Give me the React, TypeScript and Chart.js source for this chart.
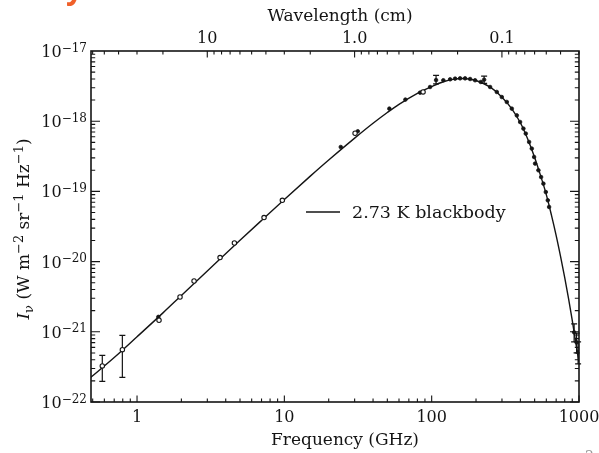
import React, { useEffect, useRef } from "react";
import { Chart, registerables } from "chart.js";

Chart.register(...registerables);

// ---------------- data ----------------
// 2.73 K blackbody curve, frequency in GHz, intensity in W m^-2 sr^-1 Hz^-1
const curveFreq = [0.48, 0.7, 1, 1.5, 2, 3, 5, 7, 10, 15, 20, 30, 40, 50, 60, 80, 100, 120, 140, 160, 180, 200, 250, 300, 350, 400, 450, 500, 550, 600, 650, 700, 750, 800, 850, 900, 950, 1000];
const curveIntensity = [2.2e-22, 4.3e-22, 8.5e-22, 1.86e-21, 3.3e-21, 7.35e-21, 2.01e-20, 3.86e-20, 7.67e-20, 1.65e-19, 2.8e-19, 5.74e-19, 9.35e-19, 1.33e-18, 1.74e-18, 2.5e-18, 3.12e-18, 3.65e-18, 3.95e-18, 4.05e-18, 4.0e-18, 3.8e-18, 3.05e-18, 2.2e-18, 1.5e-18, 9.5e-19, 5.5e-19, 3.05e-19, 1.65e-19, 9.0e-20, 4.6e-20, 2.35e-20, 1.18e-20, 5.92e-21, 2.95e-21, 1.45e-21, 7.1e-22, 3.7e-22];

// open-circle measurements
const openFreq = [0.581, 0.795, 1.41, 1.958, 2.438, 3.66, 4.58, 7.28, 9.69, 30.2, 87.4];
const openIntensity = [3.26e-22, 5.57e-22, 1.46e-21, 3.13e-21, 5.29e-21, 1.14e-20, 1.84e-20, 4.24e-20, 7.47e-20, 6.73e-19, 2.61e-18];

// filled measurements
const filledFreq = [1.395, 24.15, 31.5, 51.6, 66.3, 83.4, 97.5, 107.1, 120.0, 133.4, 144.2, 155.9, 168.6, 182.3, 197.1, 215.5, 227, 249.2, 276.7, 299.2, 323.6, 349.8, 378.3, 398.3, 419.4, 435.3, 458.4, 478.2, 495.7, 503.5, 530.2, 553.0, 573.3, 595.2, 614.1, 626.6, 926.5, 963, 986];
const filledIntensity = [1.63e-21, 4.29e-19, 7.18e-19, 1.51e-18, 2.03e-18, 2.55e-18, 3.07e-18, 3.85e-18, 3.83e-18, 3.95e-18, 4.04e-18, 4.08e-18, 4.08e-18, 3.99e-18, 3.83e-18, 3.62e-18, 3.9e-18, 3.07e-18, 2.61e-18, 2.21e-18, 1.88e-18, 1.51e-18, 1.21e-18, 9.74e-19, 7.85e-19, 6.66e-19, 5.06e-19, 4.07e-19, 3.09e-19, 2.49e-19, 2.0e-19, 1.6e-19, 1.29e-19, 9.8e-20, 7.47e-20, 6.0e-20, 9.84e-22, 7.08e-22, 5.1e-22];

// error bars
const errFreq = [0.581, 0.795, 107.1, 227, 926.5, 963, 986];
const errLow = [1.97e-22, 2.25e-22, 3.4e-18, 3.45e-18, 7.2e-22, 5.0e-22, 3.5e-22];
const errHigh = [4.62e-22, 8.91e-22, 4.5e-18, 4.4e-18, 1.3e-21, 9.6e-22, 7.2e-22];

// axes
const freqMin = 0.487;
const freqMax = 1000;
const intensityMin = 1e-22;
const intensityMax = 1e-17;
const xTickValues = [1, 10, 100, 1000];
const xTickLabels = ["1", "10", "100", "1000"];
const yTickExponents = [-22, -21, -20, -19, -18, -17];
const wavelengthTicks = [10, 1.0, 0.1]; // cm
const wavelengthTickLabels = ["10", "1.0", "0.1"];
const wavelengthMinor = [60, 50, 40, 30, 20, 9, 8, 7, 6, 5, 4, 3, 2, 0.9, 0.8, 0.7, 0.6, 0.5, 0.4, 0.3, 0.2, 0.09, 0.08, 0.07, 0.06, 0.05, 0.04, 0.03];
const minorMultipliers = [2, 3, 4, 5, 6, 7, 8, 9];
const freqDecades = [0.1, 1, 10, 100];
const intensityDecades = [1e-22, 1e-21, 1e-20, 1e-19, 1e-18];
const LIGHT_SPEED_CM_GHZ = 29.9792458; // GHz * cm

const legendLabel = "2.73 K blackbody";
const xTitle = "Frequency (GHz)";
const topTitle = "Wavelength (cm)";

const SERIF = '"DejaVu Serif", "Liberation Serif", serif';
const INK = "#141414";

type Seg = { t: string; size: number; dy: number; italic?: boolean };

function drawRich(ctx: CanvasRenderingContext2D, segs: Seg[], x: number, y: number, align: "left" | "center" | "right") {
  const widths = segs.map((s) => {
    ctx.font = `${s.italic ? "italic " : ""}${s.size}px ${SERIF}`;
    return ctx.measureText(s.t).width;
  });
  const total = widths.reduce((a, b) => a + b, 0);
  let cx = align === "left" ? x : align === "center" ? x - total / 2 : x - total;
  ctx.textAlign = "left";
  ctx.textBaseline = "alphabetic";
  segs.forEach((s, i) => {
    ctx.font = `${s.italic ? "italic " : ""}${s.size}px ${SERIF}`;
    ctx.fillText(s.t, cx, y + s.dy);
    cx += widths[i];
  });
}

const framePlugin = {
  id: "frame",
  beforeDatasetsDraw(chart: any) {
    const { ctx, scales } = chart;
    const x = scales.x;
    const y = scales.y;
    ctx.save();
    ctx.strokeStyle = INK;
    ctx.lineWidth = 1.2;
    errFreq.forEach((f, i) => {
      const px = x.getPixelForValue(f);
      const p1 = y.getPixelForValue(errLow[i]);
      const p2 = y.getPixelForValue(errHigh[i]);
      ctx.beginPath();
      ctx.moveTo(px, p1);
      ctx.lineTo(px, p2);
      ctx.moveTo(px - 3, p1);
      ctx.lineTo(px + 3, p1);
      ctx.moveTo(px - 3, p2);
      ctx.lineTo(px + 3, p2);
      ctx.stroke();
    });
    ctx.restore();
  },
  afterDraw(chart: any) {
    const { ctx, chartArea: a, scales } = chart;
    const x = scales.x;
    const y = scales.y;
    ctx.save();
    ctx.strokeStyle = INK;
    ctx.fillStyle = INK;

    // frame
    ctx.lineWidth = 1.6;
    ctx.strokeRect(a.left, a.top, a.right - a.left, a.bottom - a.top);

    ctx.lineWidth = 1.1;
    ctx.beginPath();
    // bottom frequency ticks
    freqDecades.forEach((d) => {
      [1, ...minorMultipliers].forEach((m) => {
        const v = d * m;
        if (v < freqMin || v > freqMax) return;
        const px = x.getPixelForValue(v);
        const len = m === 1 ? 6.5 : 3.5;
        ctx.moveTo(px, a.bottom);
        ctx.lineTo(px, a.bottom - len);
      });
    });
    const px1000 = x.getPixelForValue(1000);
    ctx.moveTo(px1000, a.bottom);
    ctx.lineTo(px1000, a.bottom - 6.5);
    // top wavelength ticks
    wavelengthTicks.forEach((l) => {
      const px = x.getPixelForValue(LIGHT_SPEED_CM_GHZ / l);
      ctx.moveTo(px, a.top);
      ctx.lineTo(px, a.top + 6.5);
    });
    wavelengthMinor.forEach((l) => {
      const f = LIGHT_SPEED_CM_GHZ / l;
      if (f < freqMin || f > freqMax) return;
      const px = x.getPixelForValue(f);
      ctx.moveTo(px, a.top);
      ctx.lineTo(px, a.top + 3.5);
    });
    // left & right intensity ticks
    intensityDecades.forEach((d) => {
      [1, ...minorMultipliers].forEach((m) => {
        const py = y.getPixelForValue(d * m);
        const len = m === 1 ? 9 : 4.2;
        ctx.moveTo(a.left, py);
        ctx.lineTo(a.left + len, py);
        ctx.moveTo(a.right, py);
        ctx.lineTo(a.right - len, py);
      });
    });
    ctx.stroke();

    // y tick labels 10^n
    yTickExponents.forEach((e) => {
      const py = y.getPixelForValue(Math.pow(10, e));
      drawRich(ctx, [
        { t: "10", size: 16, dy: 0 },
        { t: "\u2212" + Math.abs(e), size: 12, dy: -5.5 },
      ], a.left - 4, py + 6, "right");
    });

    // axis titles
    drawRich(ctx, [{ t: xTitle, size: 17, dy: 0 }], 345, 445, "center");
    drawRich(ctx, [{ t: topTitle, size: 17, dy: 0 }], 340, 21, "center");

    ctx.save();
    ctx.translate(29, 229);
    ctx.rotate(-Math.PI / 2);
    drawRich(ctx, [
      { t: "I", size: 17, dy: 0, italic: true },
      { t: "\u03bd", size: 13, dy: 4 },
      { t: " (W m", size: 17, dy: 0 },
      { t: "\u22122", size: 13, dy: -6.5 },
      { t: " sr", size: 17, dy: 0 },
      { t: "\u22121", size: 13, dy: -6.5 },
      { t: " Hz", size: 17, dy: 0 },
      { t: "\u22121", size: 13, dy: -6.5 },
      { t: ")", size: 17, dy: 0 },
    ], 0, 0, "center");
    ctx.restore();

    // legend
    ctx.lineWidth = 1.4;
    ctx.beginPath();
    ctx.moveTo(306, 212);
    ctx.lineTo(340, 212);
    ctx.stroke();
    drawRich(ctx, [{ t: legendLabel, size: 17.5, dy: 0 }], 352, 218, "left");

    // cropped fragments of the slide around the figure
    ctx.fillStyle = "#f0602a";
    ctx.font = `bold 30px "Open Sans", sans-serif`;
    ctx.textAlign = "left";
    ctx.textBaseline = "alphabetic";
    ctx.fillText("y", 66, -1);
    ctx.fillStyle = "#9a9a9a";
    ctx.font = `14px ${SERIF}`;
    ctx.fillText("2", 585, 461);
    ctx.restore();
  },
};

export default function App() {
  const ref = useRef<HTMLCanvasElement | null>(null);

  useEffect(() => {
    if (!ref.current) return;
    const chart = new Chart(ref.current, {
      type: "scatter",
      data: {
        datasets: [
          {
            label: "open",
            data: openFreq.map((f, i) => ({ x: f, y: openIntensity[i] })),
            pointRadius: 2.2,
            pointBackgroundColor: "#ffffff",
            pointBorderColor: INK,
            pointBorderWidth: 1.1,
          },
          {
            label: "filled",
            data: filledFreq.map((f, i) => ({ x: f, y: filledIntensity[i] })),
            pointRadius: 1.8,
            pointBackgroundColor: INK,
            pointBorderColor: INK,
            pointBorderWidth: 0.8,
          },
          {
            label: legendLabel,
            data: curveFreq.map((f, i) => ({ x: f, y: curveIntensity[i] })),
            showLine: true,
            borderColor: INK,
            borderWidth: 1.4,
            pointRadius: 0,
            cubicInterpolationMode: "monotone",
            fill: false,
          } as any,
        ],
      },
      options: {
        responsive: false,
        animation: false,
        devicePixelRatio: 1,
        layout: { padding: { left: 0, right: 20, top: 0, bottom: 0 } },
        plugins: {
          legend: { display: false },
          tooltip: { enabled: false },
          title: { display: false },
        },
        scales: {
          x: {
            type: "logarithmic",
            position: "bottom",
            min: freqMin,
            max: freqMax,
            grid: { display: false, drawTicks: false },
            border: { display: false },
            ticks: {
              autoSkip: false,
              maxRotation: 0,
              padding: 6,
              color: INK,
              font: { family: SERIF, size: 16 },
              callback: (_v: any, i: number) => xTickLabels[i] ?? "",
            },
            afterBuildTicks: (s: any) => {
              s.ticks = xTickValues.map((v) => ({ value: v }));
            },
            afterFit: (s: any) => {
              s.height = 51;
              s.paddingLeft = 0;
              s.paddingRight = 0;
            },
          },
          x2: {
            type: "logarithmic",
            position: "top",
            min: freqMin,
            max: freqMax,
            grid: { display: false, drawTicks: false },
            border: { display: false },
            ticks: {
              autoSkip: false,
              maxRotation: 0,
              padding: 3,
              color: INK,
              font: { family: SERIF, size: 16 },
              callback: (_v: any, i: number) => wavelengthTickLabels[i] ?? "",
            },
            afterBuildTicks: (s: any) => {
              s.ticks = wavelengthTicks.map((l) => ({ value: LIGHT_SPEED_CM_GHZ / l }));
            },
            afterFit: (s: any) => {
              s.height = 51;
              s.paddingLeft = 0;
              s.paddingRight = 0;
            },
          },
          y: {
            type: "logarithmic",
            position: "left",
            min: intensityMin,
            max: intensityMax,
            grid: { display: false, drawTicks: false },
            border: { display: false },
            ticks: { display: false },
            afterFit: (s: any) => {
              s.width = 91;
              s.paddingTop = 0;
              s.paddingBottom = 0;
            },
          },
        },
      } as any,
      plugins: [framePlugin],
    });
    return () => chart.destroy();
  }, []);

  return (
    <canvas
      ref={ref}
      width={599}
      height={453}
      style={{ position: "absolute", left: 0, top: 0, background: "#ffffff" }}
    />
  );
}
